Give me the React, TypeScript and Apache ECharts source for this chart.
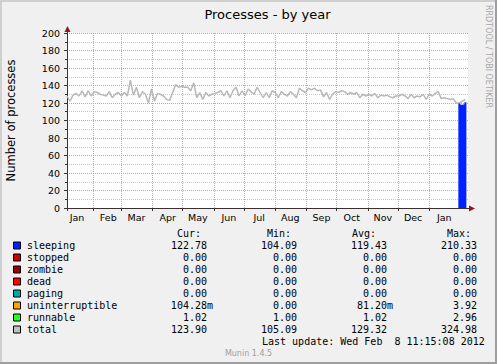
import React, { useEffect, useRef } from 'react';
import * as echarts from 'echarts';

// ---- Data ----
const monthLabels = ['Jan', 'Feb', 'Mar', 'Apr', 'May', 'Jun', 'Jul', 'Aug', 'Sep', 'Oct', 'Nov', 'Dec', 'Jan'];
// day offsets (day 0 = 2011-01-06) of each month start
const monthStartDays = [-5, 26, 54, 85, 115, 146, 176, 207, 238, 268, 299, 329, 360];
const xMaxDay = 398.6;

// total processes, one sample every 3 days starting at day 0
const totalStepDays = 3;
const totalValues = [
  128, 122, 129, 131, 128, 134, 127, 134, 128, 133,
  132, 130, 129, 128, 133, 126, 130, 132, 128, 132,
  128, 146, 129, 138, 126, 133, 130, 120, 136, 122,
  131, 130, 128, 124, 123, 132, 141, 138, 139, 138,
  138, 134, 143, 126, 132, 124, 132, 128, 130, 131,
  132, 134, 128, 134, 126, 134, 138, 128, 134, 128,
  136, 133, 130, 138, 132, 126, 132, 126, 134, 132,
  126, 133, 130, 128, 133, 130, 126, 137, 134, 132,
  137, 135, 137, 134, 135, 127, 132, 124, 130, 133,
  132, 134, 133, 130, 132, 130, 132, 126, 130, 128,
  130, 128, 131, 126, 129, 128, 129, 127, 126, 128,
  128, 130, 128, 125, 130, 126, 128, 127, 130, 124,
  130, 128, 131, 133, 125, 126, 125, 124, 125, 120,
  120, 122, 124,
];

// stacked fields only recorded during the last days
const recentDays = [389, 391, 393, 395, 397];
const sleeping = [119.5, 118.0, 118.6, 121.0, 122.78];
const stopped = [0, 0, 0, 0, 0];
const zombie = [0, 0, 0, 0, 0];
const dead = [0, 0, 0, 0, 0];
const paging = [0, 0, 0, 0, 0];
const uninterruptible = [0.08, 0.1, 0.05, 0.1, 0.104];
const runnable = [1.0, 1.02, 1.0, 1.05, 1.02];

// legend table
const legendNames = ['sleeping', 'stopped', 'zombie', 'dead', 'paging', 'uninterruptible', 'runnable', 'total'];
const legendColors = ['#0022ff', '#cc0000', '#990000', '#ff0000', '#00aaaa', '#ffa500', '#22ff22', '#c0c0c0'];
const curVals = ['122.78', '0.00', '0.00', '0.00', '0.00', '104.28m', '1.02', '123.90'];
const minVals = ['104.09', '0.00', '0.00', '0.00', '0.00', '0.00', '1.00', '105.09'];
const avgVals = ['119.43', '0.00', '0.00', '0.00', '0.00', '81.20m', '1.02', '129.32'];
const maxVals = ['210.33', '0.00', '0.00', '0.00', '0.00', '3.92', '2.96', '324.98'];
const columnHeaders = ['Cur:', 'Min:', 'Avg:', 'Max:'];
const lastUpdate = 'Last update: Wed Feb  8 11:15:08 2012';
const footer = 'Munin 1.4.5';
const titleText = 'Processes - by year';
const yAxisName = 'Number of processes';
const sideText = 'RRDTOOL / TOBI OETIKER';

// ---- Layout ----
const W = 497;
const H = 364;
const G = { left: 67, top: 33, width: 401, height: 175 };
const AXIS = '#3a3030';
const ARROW = '#8b1a1a';
const MGRID = '#f39292';
const GRIDC = '#c8c8c8';
const MONO = '"DejaVu Sans Mono", monospace';
const SANS = '"DejaVu Sans", sans-serif';

export default function App() {
  const ref = useRef<HTMLDivElement>(null);

  useEffect(() => {
    if (!ref.current) return;
    const chart = echarts.init(ref.current, undefined, { renderer: 'svg' });

    const tickDays = monthStartDays.filter((d) => d > 0 && d < xMaxDay);
    const labelDays = monthStartDays.map((d) => d + 15);

    const totalData = totalValues.map((v, i) => [i * totalStepDays, v]);
    const stackSeries = [
      { name: 'sleeping', vals: sleeping, color: legendColors[0] },
      { name: 'stopped', vals: stopped, color: legendColors[1] },
      { name: 'zombie', vals: zombie, color: legendColors[2] },
      { name: 'dead', vals: dead, color: legendColors[3] },
      { name: 'paging', vals: paging, color: legendColors[4] },
      { name: 'uninterruptible', vals: uninterruptible, color: legendColors[5] },
      { name: 'runnable', vals: runnable, color: legendColors[6] },
    ].map((s) => ({
      name: s.name,
      type: 'line',
      stack: 'procs',
      step: 'end',
      data: recentDays.map((d, i) => [d, s.vals[i]]),
      showSymbol: false,
      symbol: 'none',
      lineStyle: { width: 0, color: s.color },
      itemStyle: { color: s.color },
      areaStyle: { color: s.color, opacity: 1 },
      z: 3,
    }));

    const gx0 = G.left;
    const gy0 = G.top;
    const gx1 = G.left + G.width;
    const gy1 = G.top + G.height;

    const graphic: any[] = [
      // frame
      { type: 'rect', shape: { x: 0, y: 0, width: W, height: 2 }, style: { fill: '#cfcfcf' }, silent: true },
      { type: 'rect', shape: { x: 0, y: 0, width: 2, height: H }, style: { fill: '#cfcfcf' }, silent: true },
      { type: 'rect', shape: { x: W - 2, y: 0, width: 2, height: H }, style: { fill: '#9e9e9e' }, silent: true },
      { type: 'rect', shape: { x: 0, y: H - 2, width: W, height: 2 }, style: { fill: '#9e9e9e' }, silent: true },
      // title
      {
        type: 'text', x: gx0 + G.width / 2, y: 14,
        style: { text: titleText, fill: '#000', fontSize: 13, fontFamily: SANS, align: 'center', verticalAlign: 'middle' },
      },
      // side text
      {
        type: 'text', x: 488.5, y: 5, rotation: -Math.PI / 2,
        style: { text: sideText, fill: '#a8a8a8', fontSize: 8, fontFamily: SANS, align: 'left', verticalAlign: 'middle' },
      },
      // axis extensions and arrows
      { type: 'line', shape: { x1: gx0 + 0.5, y1: gy0, x2: gx0 + 0.5, y2: gy0 - 2 }, style: { stroke: AXIS, lineWidth: 1 } },
      { type: 'line', shape: { x1: gx0 + 0.5, y1: gy1, x2: gx0 + 0.5, y2: gy1 + 3 }, style: { stroke: AXIS, lineWidth: 1 } },
      { type: 'line', shape: { x1: gx0 - 3, y1: gy1 + 0.5, x2: gx0, y2: gy1 + 0.5 }, style: { stroke: AXIS, lineWidth: 1 } },
      { type: 'line', shape: { x1: gx1, y1: gy1 + 0.5, x2: gx1 + 2, y2: gy1 + 0.5 }, style: { stroke: AXIS, lineWidth: 1 } },
      {
        type: 'polygon',
        shape: { points: [[gx0 + 0.5, gy0 - 7], [gx0 - 2.5, gy0 - 1], [gx0 + 3.5, gy0 - 1]] },
        style: { fill: ARROW },
      },
      {
        type: 'polygon',
        shape: { points: [[gx1 + 7, gy1 + 0.5], [gx1 + 1, gy1 - 2.5], [gx1 + 1, gy1 + 3.5]] },
        style: { fill: ARROW },
      },
    ];

    // legend table
    const headerY = 233.5;
    const rowY0 = 245.5;
    const rowH = 12;
    const headerLeft = [177, 267, 352, 447];
    const colRight = [207, 297, 387, 477];
    const charW = 6.02;
    columnHeaders.forEach((h, c) => {
      graphic.push({
        type: 'text', x: headerLeft[c], y: headerY,
        style: { text: h, fill: '#000', fontSize: 10, fontFamily: MONO, align: 'left', verticalAlign: 'middle' },
      });
    });
    const cols = [curVals, minVals, avgVals, maxVals];
    legendNames.forEach((name, r) => {
      const y = rowY0 + r * rowH;
      graphic.push({
        type: 'rect',
        shape: { x: 13.5, y: y - 3.5, width: 7, height: 7 },
        style: { fill: legendColors[r], stroke: '#000', lineWidth: 1 },
      });
      graphic.push({
        type: 'text', x: 27, y,
        style: { text: name, fill: '#000', fontSize: 10, fontFamily: MONO, align: 'left', verticalAlign: 'middle' },
      });
      cols.forEach((col, c) => {
        const v = col[r];
        const suffix = /[0-9]$/.test(v) ? 0 : 1;
        graphic.push({
          type: 'text', x: colRight[c] + suffix * charW, y,
          style: { text: v, fill: '#000', fontSize: 10, fontFamily: MONO, align: 'right', verticalAlign: 'middle' },
        });
      });
    });
    graphic.push({
      type: 'text', x: 262, y: 341,
      style: { text: lastUpdate, fill: '#000', fontSize: 10, fontFamily: MONO, align: 'left', verticalAlign: 'middle' },
    });
    graphic.push({
      type: 'text', x: 248.5, y: 353.5,
      style: { text: footer, fill: '#a0a0a0', fontSize: 8, fontFamily: SANS, align: 'center', verticalAlign: 'middle' },
    });

    chart.setOption({
      animation: false,
      backgroundColor: '#f0f0f0',
      textStyle: { fontFamily: SANS },
      grid: {
        left: G.left, top: G.top, width: G.width, height: G.height,
        show: true, backgroundColor: '#ffffff', borderWidth: 0,
        containLabel: false, outerBoundsMode: 'none',
      },
      xAxis: {
        type: 'value',
        min: 0,
        max: xMaxDay,
        axisLine: { show: true, lineStyle: { color: AXIS, width: 1 } },
        axisTick: { show: true, length: 3, customValues: tickDays, lineStyle: { color: AXIS, width: 1 } },
        axisLabel: {
          show: true,
          customValues: labelDays,
          color: '#000',
          fontSize: 9.5,
          fontFamily: SANS,
          margin: 4,
          formatter: (v: number) => {
            let best = 0;
            labelDays.forEach((d, i) => {
              if (Math.abs(d - v) < Math.abs(labelDays[best] - v)) best = i;
            });
            return monthLabels[best];
          },
        },
        splitLine: { show: true, lineStyle: { color: MGRID, type: [1, 1], width: 1, opacity: 1 } },
      },
      yAxis: {
        type: 'value',
        min: 0,
        max: 200,
        interval: 20,
        name: yAxisName,
        nameLocation: 'middle',
        nameGap: 50,
        nameRotate: 90,
        nameTextStyle: { fontSize: 11.5, color: '#000', fontFamily: SANS },
        axisLine: { show: true, lineStyle: { color: AXIS, width: 1 } },
        axisTick: { show: true, length: 3, lineStyle: { color: AXIS, width: 1 } },
        minorTick: { show: true, splitNumber: 2, length: 2, lineStyle: { color: AXIS, width: 1 } },
        axisLabel: { color: '#000', fontSize: 9.5, fontFamily: SANS, margin: 7 },
        splitLine: { show: true, lineStyle: { color: MGRID, type: [1, 1], width: 1, opacity: 1 } },
        minorSplitLine: { show: true, lineStyle: { color: GRIDC, type: [1, 1], width: 1, opacity: 1 } },
      },
      series: [
        {
          name: 'total',
          type: 'line',
          data: totalData,
          showSymbol: false,
          symbol: 'none',
          lineStyle: { color: '#b8b8b8', width: 1.5 },
          itemStyle: { color: '#b8b8b8' },
          z: 2,
        },
        ...stackSeries,
      ],
      graphic,
    });

    return () => chart.dispose();
  }, []);

  return <div ref={ref} style={{ position: 'absolute', left: 0, top: 0, width: W, height: H }} />;
}
